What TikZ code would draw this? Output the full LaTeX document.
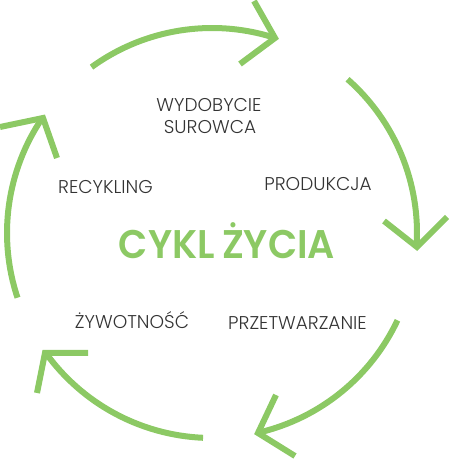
\documentclass[tikz,border=0pt]{standalone}
\usepackage{fontspec}
\newfontfamily\labfont{Poppins}[UprightFont=* Light]
\newfontfamily\titfont{Poppins}[UprightFont=* SemiBold,FakeStretch=0.95]
\definecolor{cgreen}{HTML}{8CC964}
\definecolor{cgray}{HTML}{333333}
\begin{document}
\begin{tikzpicture}[x=1pt,y=1pt,
  arcline/.style={draw=cgreen,line width=6pt,line cap=butt,line join=miter,miter limit=10},
  lab/.style={anchor=base,text=cgray,font=\labfont\fontsize{18.5}{20}\selectfont,inner sep=0pt},
  tit/.style={anchor=base,text=cgreen,font=\titfont\fontsize{40}{44}\selectfont,inner sep=0pt}]
\useasboundingbox (0,0) rectangle (450,459);
\coordinate (c) at (212,226);
% arcs
\draw[arcline] (c) ++(126:205) arc[start angle=126,end angle=72.1,radius=205];
\draw[arcline] (c) ++(48.6:205) arc[start angle=48.6,end angle=-3.9,radius=205];
\draw[arcline] (c) ++(-25.2:205) arc[start angle=-25.2,end angle=-76.5,radius=205];
\draw[arcline] (c) ++(-92.5:205) arc[start angle=-92.5,end angle=-144.3,radius=205];
\draw[arcline] (c) ++(198.4:205) arc[start angle=198.4,end angle=145.8,radius=205];
% chevrons
\coordinate (t1) at (275,421); \coordinate (t1a) at (254,458); \coordinate (t1b) at (240,395);
\coordinate (t2) at (417,212); \coordinate (t2a) at (384,238); \coordinate (t2b) at (447,242);
\coordinate (t3) at (258,26);  \coordinate (t3a) at (276,64);  \coordinate (t3b) at (295,3);
\coordinate (t4) at (45,106);  \coordinate (t4a) at (88,106);  \coordinate (t4b) at (37,66);
\coordinate (t5) at (43,341);  \coordinate (t5a) at (0,332);   \coordinate (t5b) at (57,301);
\draw[arcline] (t1a) -- (t1) -- (t1b);
\draw[arcline] (t2a) -- (t2) -- (t2b);
\draw[arcline] (t3a) -- (t3) -- (t3b);
\draw[arcline] (t4a) -- (t4) -- (t4b);
\draw[arcline] (t5a) -- (t5) -- (t5b);
% labels
\node[lab] (w1) at (209,347.3) {WYDOBYCIE};
\node[lab] (w2) at (210,325.7) {SUROWCA};
\node[lab] (rec) at (105.5,265) {RECYKLING};
\node[lab] (pro) at (318,268) {PRODUKCJA};
\node[lab] (zyw) at (132,130.7) {ŻYWOTNOŚĆ};
\node[lab] (prz) at (297.5,129.7) {PRZETWARZANIE};
\node[tit] (title) at (227,200.7) {CYKL\hspace{0.18em}ŻYCIA};
\end{tikzpicture}
\end{document}
